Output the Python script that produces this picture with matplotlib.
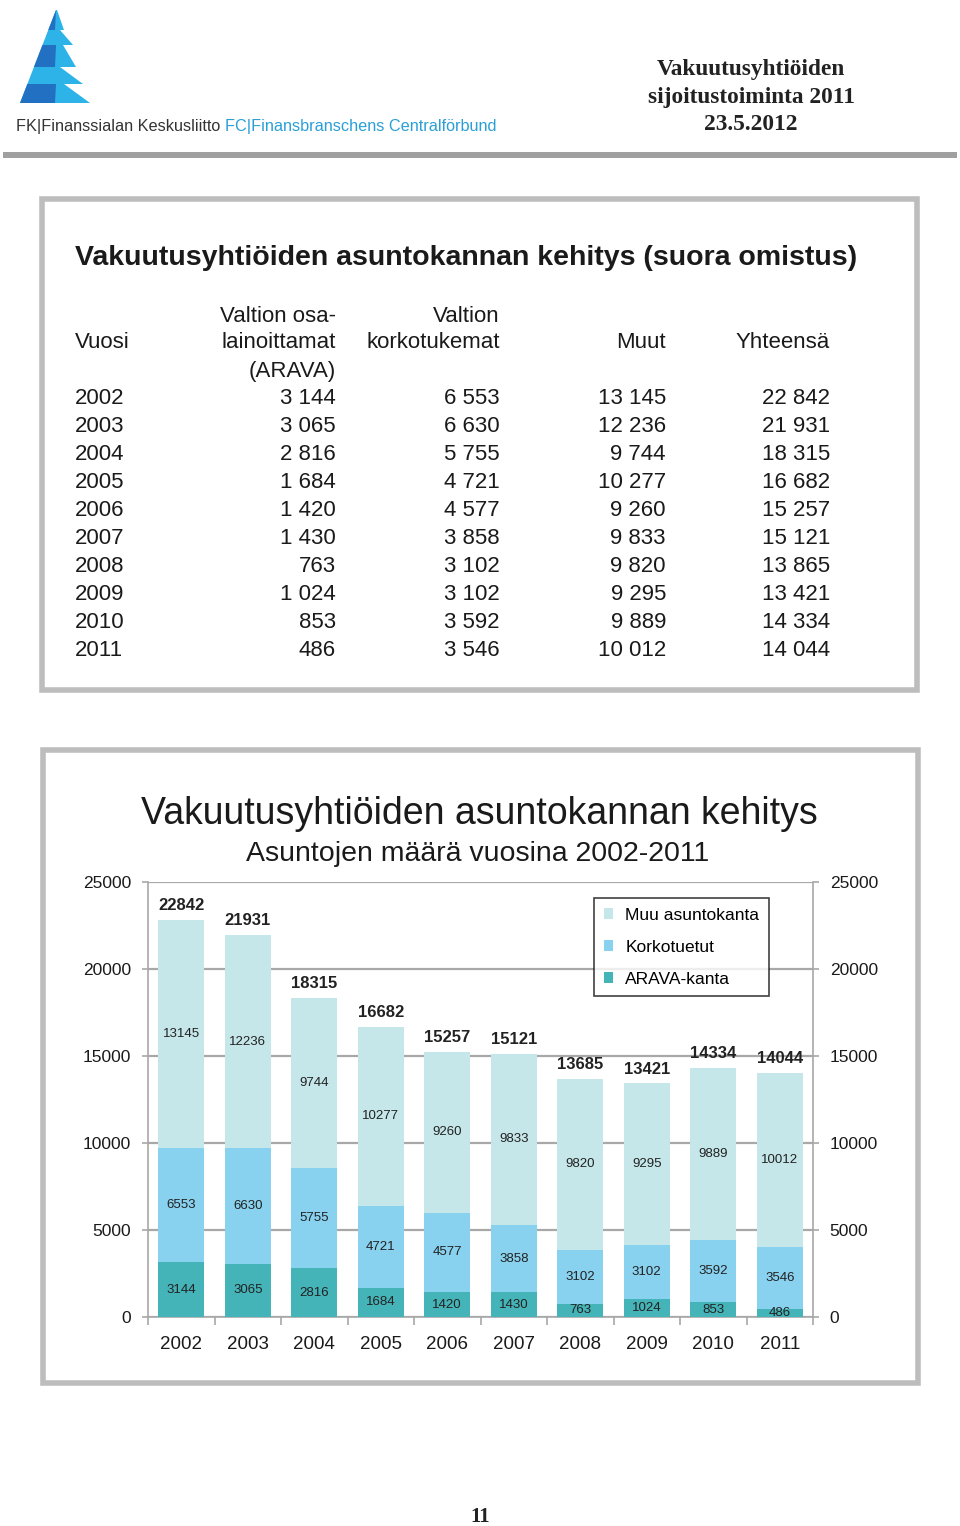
import matplotlib.pyplot as plt
from matplotlib.patches import Rectangle, Polygon, Patch

W, H = 960, 1526

# data
years = [2002, 2003, 2004, 2005, 2006, 2007, 2008, 2009, 2010, 2011]
arava = [3144, 3065, 2816, 1684, 1420, 1430, 763, 1024, 853, 486]
korko = [6553, 6630, 5755, 4721, 4577, 3858, 3102, 3102, 3592, 3546]
muut = [13145, 12236, 9744, 10277, 9260, 9833, 9820, 9295, 9889, 10012]
table_totals = [22842, 21931, 18315, 16682, 15257, 15121, 13865, 13421, 14334, 14044]
chart_totals = [a + k + m for a, k, m in zip(arava, korko, muut)]

c_arava = '#45B4B8'
c_korko = '#88D2EF'
c_muut = '#C5E7E9'
frame_col = '#BDBDBD'


def fmt(v):
    return f"{v:,}".replace(",", " ")


fig = plt.figure(figsize=(W / 100, H / 100), dpi=100)
bg = fig.add_axes([0, 0, 1, 1])
bg.set_xlim(0, W)
bg.set_ylim(H, 0)
bg.axis('off')

# logo
dark, cyan = '#2170C2', '#2DB3E8'
def xl(y):
    return 56 - (y - 10) * (36 / 93)
bands = [(10, 30, 57, 64, True), (30, 45, 60, 73, False), (45, 67, 63, 76, True),
         (67, 84, 60, 83, False), (84, 103, 64, 90, True)]
for y0, y1, r0, r1, split in bands:
    bg.add_patch(Polygon([(xl(y0), y0), (r0, y0), (r1, y1), (xl(y1), y1)], closed=True,
                         facecolor=cyan, edgecolor='none'))
    if split:
        bg.add_patch(Polygon([(xl(y0), y0), (min(56, r0), y0), (55, y1), (xl(y1), y1)], closed=True,
                             facecolor=dark, edgecolor='none'))

bg.text(16, 127, 'FK|Finanssialan Keskusliitto', fontsize=11.7, color='#333333',
        family='Liberation Sans', va='center', ha='left')
bg.text(225, 127, 'FC|Finansbranschens Centralförbund', fontsize=11.7, color='#2A9FD6',
        family='Liberation Sans', va='center', ha='left')

for i, s in enumerate(['Vakuutusyhtiöiden', 'sijoitustoiminta 2011', '23.5.2012']):
    bg.text(751, 69 + 28 * i, s, fontsize=16.8, fontweight='bold', family='Liberation Serif',
            ha='center', va='center', color='#222222')

bg.add_patch(Rectangle((3, 152), 954, 6, facecolor='#A0A0A0', edgecolor='none'))

# table box
bg.add_patch(Rectangle((42, 199), 875, 491, facecolor='white', edgecolor=frame_col, linewidth=4))
bg.text(75, 258, 'Vakuutusyhtiöiden asuntokannan kehitys (suora omistus)', fontsize=20.5,
        fontweight='bold', family='Liberation Sans', va='center', ha='left', color='#1a1a1a')

tf = dict(fontsize=16, family='Liberation Sans', va='center', color='#1a1a1a')
col_x = [336, 500, 666, 830]
bg.text(75, 343, 'Vuosi', ha='left', **tf)
bg.text(336, 316, 'Valtion osa-', ha='right', **tf)
bg.text(336, 343, 'lainoittamat', ha='right', **tf)
bg.text(336, 371, '(ARAVA)', ha='right', **tf)
bg.text(500, 316, 'Valtion', ha='right', **tf)
bg.text(500, 343, 'korkotukemat', ha='right', **tf)
bg.text(666, 343, 'Muut', ha='right', **tf)
bg.text(830, 343, 'Yhteensä', ha='right', **tf)
for i, yr in enumerate(years):
    y = 399 + 27.9 * i
    bg.text(75, y, str(yr), ha='left', **tf)
    for cx, v in zip(col_x, [arava[i], korko[i], muut[i], table_totals[i]]):
        bg.text(cx, y, fmt(v), ha='right', **tf)

# chart box
bg.add_patch(Rectangle((43, 750), 875, 633, facecolor='white', edgecolor=frame_col, linewidth=4))
bg.text(479, 814, 'Vakuutusyhtiöiden asuntokannan kehitys', fontsize=27,
        family='Liberation Sans', ha='center', va='center', color='#1a1a1a')
bg.text(478, 854, 'Asuntojen määrä vuosina 2002-2011', fontsize=20.5,
        family='Liberation Sans', ha='center', va='center', color='#1a1a1a')

bg.text(480, 1517, '11', fontsize=15, fontweight='bold', family='Liberation Serif',
        ha='center', va='center', color='#222222')

# chart
ax = fig.add_axes([148 / W, 1 - 1317 / H, (813 - 148) / W, (1317 - 882) / H])
ax.patch.set_alpha(0)
x = list(range(len(years)))
bw = 0.69
bot2 = arava
bot3 = [a + k for a, k in zip(arava, korko)]
ax.bar(x, arava, bw, color=c_arava, zorder=3)
ax.bar(x, korko, bw, bottom=bot2, color=c_korko, zorder=3)
ax.bar(x, muut, bw, bottom=bot3, color=c_muut, zorder=3)

lf = dict(ha='center', va='center', fontsize=9.5, family='Liberation Sans', color='#222222', zorder=4)
for i in x:
    ax.text(i, arava[i] / 2, str(arava[i]), **lf)
    ax.text(i, bot2[i] + korko[i] / 2, str(korko[i]), **lf)
    ax.text(i, bot3[i] + muut[i] / 2, str(muut[i]), **lf)
    ax.annotate(str(chart_totals[i]), (i, chart_totals[i]), xytext=(0, 5), textcoords='offset points',
                ha='center', va='bottom', fontsize=12, fontweight='bold', family='Liberation Sans',
                color='#222222', zorder=4)

ax.set_xlim(-0.5, len(years) - 0.5)
ax.set_ylim(0, 25000)
ax.set_yticks(range(0, 25001, 5000))
ax.yaxis.grid(True, color='#A8A8A8', linewidth=1.6, zorder=1)
ax.spines['top'].set_visible(False)
for s in ['left', 'right', 'bottom']:
    ax.spines[s].set_color('#A8A8A8')
    ax.spines[s].set_linewidth(1.2)
ax.tick_params(axis='y', which='major', left=True, right=True, labelleft=True, labelright=True,
               length=4, color='#A8A8A8', width=1.2, pad=8, labelsize=12.5, labelcolor='#1a1a1a')
for lab in ax.get_yticklabels():
    lab.set_family('Liberation Sans')
ax.set_xticks([i - 0.5 for i in range(len(years) + 1)])
ax.set_xticklabels([])
ax.tick_params(axis='x', which='major', length=6, color='#A8A8A8', width=1.2)
ax.set_xticks(x, minor=True)
ax.set_xticklabels([str(y) for y in years], minor=True, fontsize=13.5, family='Liberation Sans',
                   color='#1a1a1a')
ax.tick_params(axis='x', which='minor', length=0, pad=14)

handles = [Patch(facecolor=c_muut, label='Muu asuntokanta'),
           Patch(facecolor=c_korko, label='Korkotuetut'),
           Patch(facecolor=c_arava, label='ARAVA-kanta')]
leg = ax.legend(handles=handles, loc='upper left', bbox_to_anchor=(594 / W, 1 - 898 / H),
                bbox_transform=fig.transFigure, borderaxespad=0, frameon=True, fancybox=False,
                edgecolor='#111111', prop={'family': 'Liberation Sans', 'size': 12.5},
                handlelength=0.55, handleheight=0.55, handletextpad=0.7, labelspacing=0.98,
                borderpad=0.55)
leg.get_frame().set_linewidth(1.2)
leg.set_zorder(5)

fig.savefig('out.png', dpi=100)
